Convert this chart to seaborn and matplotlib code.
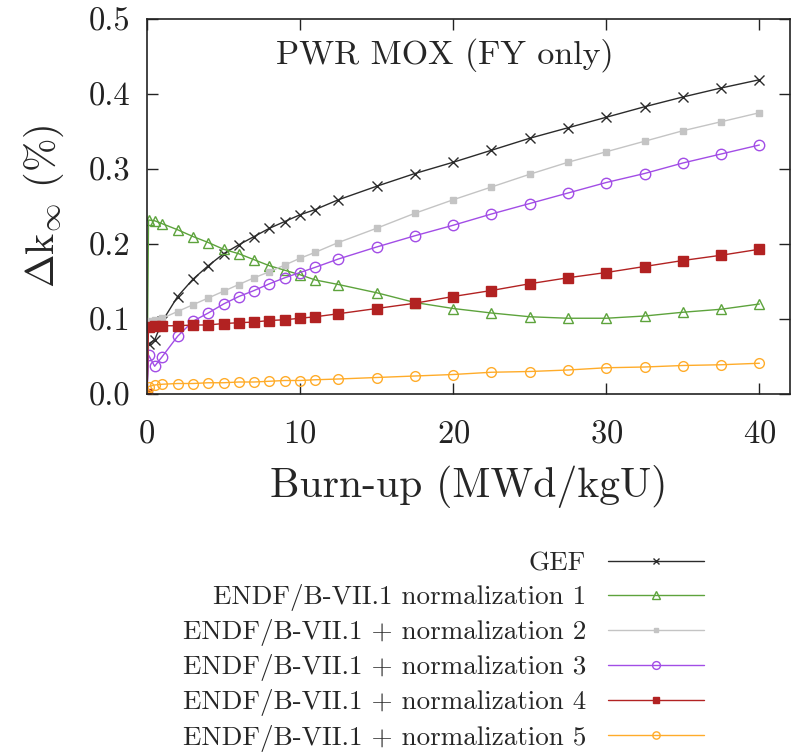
import numpy as np
import pandas as pd
import matplotlib
matplotlib.use("Agg")
import matplotlib.pyplot as plt
import seaborn as sns

# Burn-up steps (MWd/kgU)
burnup = [0, 0.1, 0.5, 1, 2, 3, 4, 5, 6, 7, 8, 9, 10, 11, 12.5,
          15, 17.5, 20, 22.5, 25, 27.5, 30, 32.5, 35, 37.5, 40]

# Delta k_inf (%) for each library
gef = [0, 0.067, 0.072, 0.097, 0.130, 0.153, 0.171, 0.187, 0.199, 0.210, 0.221, 0.230, 0.239,
       0.246, 0.259, 0.277, 0.294, 0.309, 0.325, 0.341, 0.355, 0.369, 0.383, 0.396, 0.408, 0.419]
norm1 = [0, 0.232, 0.231, 0.227, 0.219, 0.210, 0.202, 0.193, 0.187, 0.179, 0.171, 0.165, 0.159,
         0.152, 0.146, 0.135, 0.122, 0.114, 0.108, 0.103, 0.101, 0.101, 0.104, 0.109, 0.113, 0.120]
norm2 = [0, 0.097, 0.099, 0.101, 0.110, 0.119, 0.128, 0.137, 0.146, 0.155, 0.163, 0.172, 0.181,
         0.189, 0.202, 0.221, 0.241, 0.259, 0.276, 0.293, 0.309, 0.323, 0.337, 0.351, 0.363, 0.375]
norm3 = [0, 0.052, 0.037, 0.050, 0.077, 0.097, 0.108, 0.120, 0.130, 0.138, 0.147, 0.155, 0.162,
         0.169, 0.180, 0.196, 0.211, 0.225, 0.240, 0.254, 0.268, 0.282, 0.294, 0.308, 0.320, 0.332]
norm4 = [0, 0.090, 0.091, 0.091, 0.091, 0.092, 0.092, 0.094, 0.095, 0.096, 0.098, 0.099, 0.101,
         0.103, 0.107, 0.114, 0.121, 0.130, 0.138, 0.147, 0.155, 0.162, 0.170, 0.178, 0.185, 0.193]
norm5 = [0, 0.010, 0.012, 0.013, 0.014, 0.014, 0.015, 0.015, 0.016, 0.016, 0.017, 0.018, 0.018,
         0.019, 0.020, 0.022, 0.024, 0.026, 0.029, 0.030, 0.032, 0.035, 0.036, 0.038, 0.039, 0.041]

labels = ["GEF",
          "ENDF/B-VII.1 normalization 1",
          "ENDF/B-VII.1 + normalization 2",
          "ENDF/B-VII.1 + normalization 3",
          "ENDF/B-VII.1 + normalization 4",
          "ENDF/B-VII.1 + normalization 5"]
series = [gef, norm1, norm2, norm3, norm4, norm5]

# style per series: color, marker, size, filled
styles = [("#2b2b2b", "x", 6.5, True),
          ("#5da33c", "^", 7, False),
          ("#c4c4c4", "s", 4, True),
          ("#a24de6", "o", 7.5, False),
          ("#b22222", "s", 6.5, True),
          ("#ffac2a", "o", 7, False)]

sns.set_theme(style="ticks")
plt.rcParams["font.family"] = ["cmr10", "DejaVu Serif"]
plt.rcParams["mathtext.fontset"] = "cm"
plt.rcParams["axes.unicode_minus"] = False
plt.rcParams["axes.formatter.use_mathtext"] = True

fig = plt.figure(figsize=(7.98, 7.53), dpi=100)
ax = fig.add_axes([147 / 798, 1 - 394 / 753, 643 / 798, 375 / 753])

for lab, vals, (col, mk, ms, filled) in zip(labels, series, styles):
    df = pd.DataFrame({"burnup": burnup, "dk": vals})
    sns.lineplot(data=df, x="burnup", y="dk", ax=ax, color=col, marker=mk,
                 markersize=ms, markeredgecolor=col,
                 markerfacecolor=col if filled else "none",
                 markeredgewidth=1.0, linewidth=1.0, label=lab, sort=False)

ax.set_xlim(0, 42)
ax.set_ylim(0, 0.5)
ax.set_xticks([0, 10, 20, 30, 40])
ax.set_yticks([0, 0.1, 0.2, 0.3, 0.4, 0.5])
ax.set_yticklabels([f"{v:.1f}" for v in [0, 0.1, 0.2, 0.3, 0.4, 0.5]])
ax.tick_params(direction="in", length=8, width=1, top=True, right=True,
               labelsize=23.5, colors="#222222")
ax.tick_params(axis="y", pad=12)
ax.tick_params(axis="x", pad=18)
for sp in ax.spines.values():
    sp.set_linewidth(1.2)
    sp.set_color("#222222")

ax.set_xlabel("Burn-up (MWd/kgU)", fontsize=30, labelpad=12)
ax.set_ylabel(r"$\Delta\mathrm{k}_\infty$ (%)", fontsize=29, labelpad=16)
ax.text(0.463, 0.905, "PWR MOX (FY only)", transform=ax.transAxes,
        ha="center", va="center", fontsize=24.5)

handles, labs = ax.get_legend_handles_labels()
ax.get_legend().remove()
leg = fig.legend(handles, labs, loc="upper right", bbox_to_anchor=(704 / 798, 1 - 552 / 753),
                 frameon=False, markerfirst=False, fontsize=19.5, handlelength=3.55,
                 handletextpad=0.8, labelspacing=0.30, borderpad=0, borderaxespad=0)
for col in leg._legend_handle_box.get_children():
    col.align = "right"
for h in leg.legend_handles:
    h.set_markersize(h.get_markersize() * 0.75)

fig.savefig("out.png", dpi=100)
